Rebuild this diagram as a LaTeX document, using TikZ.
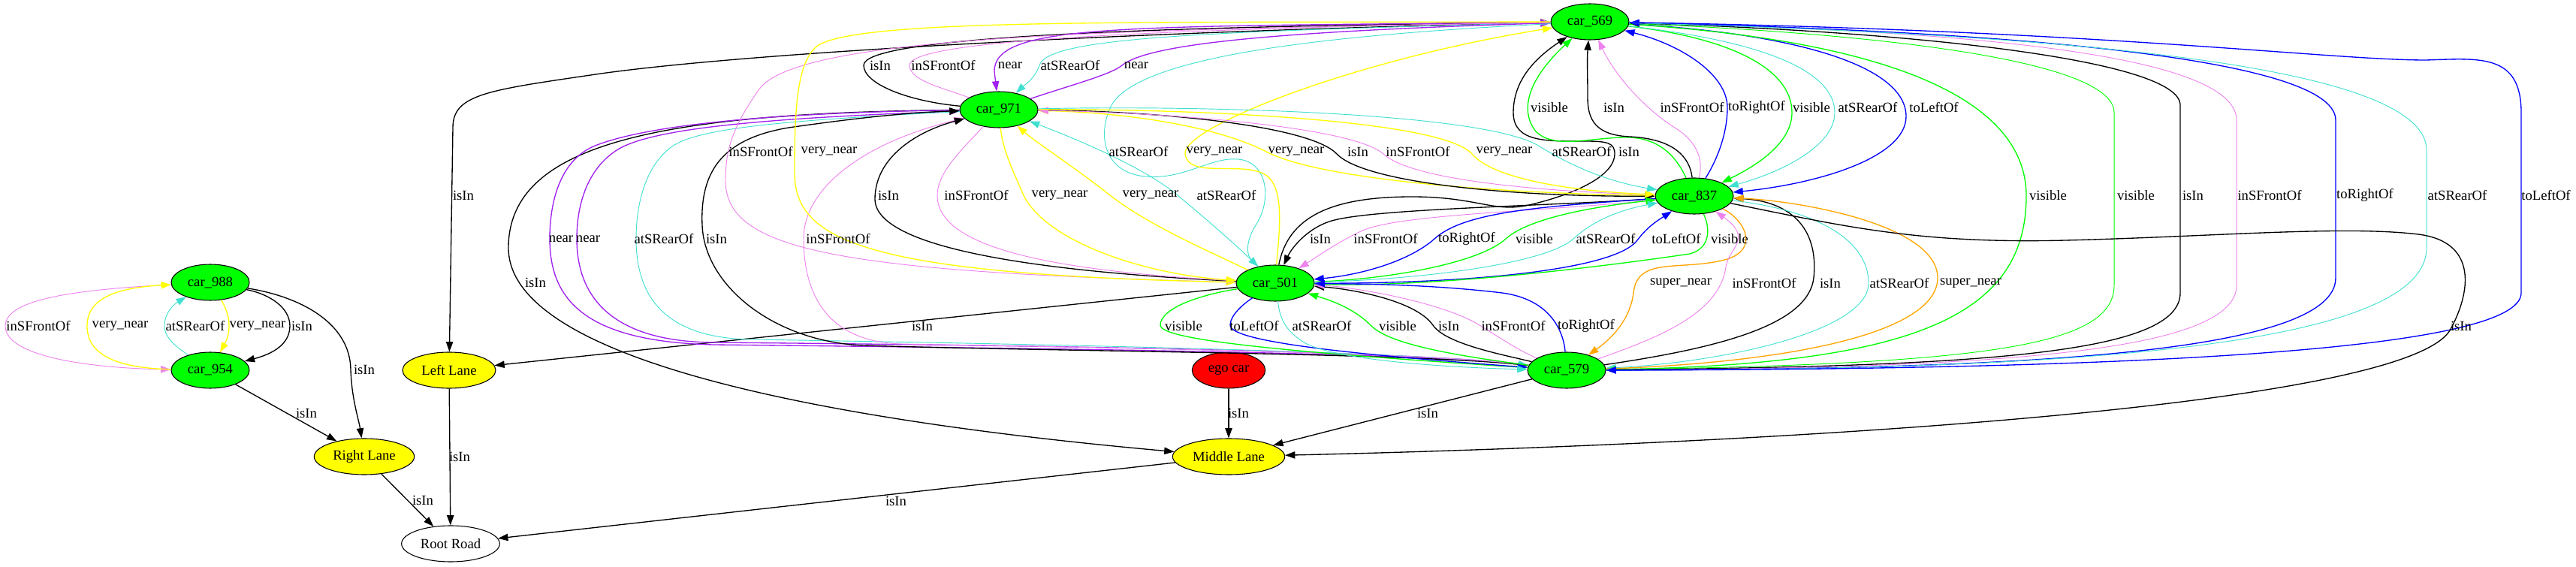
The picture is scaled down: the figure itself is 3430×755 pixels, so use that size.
\documentclass[tikz,border=0pt]{standalone}
\usepackage{fontspec}
\setmainfont{Liberation Serif}
\usetikzlibrary{shapes.geometric,arrows.meta}
\definecolor{gc}{HTML}{00FF00}
\definecolor{yc}{HTML}{FFFF00}
\definecolor{rc}{HTML}{FF0000}
\definecolor{vi}{HTML}{EE82EE}
\definecolor{tq}{HTML}{40E0D0}
\definecolor{pu}{HTML}{A020F0}
\definecolor{bl}{HTML}{0000FF}
\definecolor{og}{HTML}{FFA500}
\definecolor{gn}{HTML}{00FF00}
\definecolor{yl}{HTML}{FFFF00}
\begin{document}
\begin{tikzpicture}[x=0.75pt,y=-0.75pt,
  every node/.style={font=\fontsize{14pt}{16pt}\selectfont},
  ed/.style={-{Triangle[length=10pt,width=7pt]},line width=1pt},
  th/.style={line width=0.7pt},
  car/.style={ellipse,draw,line width=0.8pt,fill=gc,minimum width=78pt,minimum height=36pt,inner sep=0pt},
  lane/.style={ellipse,draw,line width=0.8pt,fill=yc,minimum height=36pt,inner sep=0pt},
  lab/.style={inner sep=0pt}]
\useasboundingbox (0,0) rectangle (3430,755);
% nodes
\node[car] (c569) at (2117,29) {car\_569};
\node[car] (c971) at (1330,146) {car\_971};
\node[car] (c837) at (2256,261) {car\_837};
\node[car] (c501) at (1698,377) {car\_501};
\node[car] (c579) at (2086,493) {car\_579};
\node[car] (c988) at (280,376) {car\_988};
\node[car] (c954) at (280,493) {car\_954};
\node[ellipse,draw,line width=0.8pt,fill=rc,minimum width=73pt,minimum height=36pt,inner sep=0pt] (ego) at (1636,493) {ego car};
\node[lane,minimum width=93pt] (left) at (598,493) {Left Lane};
\node[lane,minimum width=100pt] (right) at (485,608) {Right Lane};
\node[lane,minimum width=112pt] (middle) at (1636,608) {Middle Lane};
\node[ellipse,draw,line width=0.8pt,minimum width=98pt,minimum height=36pt,inner sep=0pt] (root) at (600,724) {Root Road};
% left cluster
\draw[ed,th,vi] (c988) .. controls (120,385) and (7,395) .. (7,434) .. controls (7,475) and (120,490) .. (c954);
\draw[ed,yl] (c954) .. controls (150,490) and (116,470) .. (116,434) .. controls (116,395) and (160,383) .. (c988);
\draw[ed,yl] (c988) .. controls (298,405) and (305,418) .. (305,434) .. controls (305,450) and (298,460) .. (c954);
\draw[ed,th,tq] (c954) .. controls (235,462) and (219,450) .. (219,434) .. controls (219,416) and (232,405) .. (c988);
\draw[ed] (c988) .. controls (360,392) and (386,410) .. (386,434) .. controls (386,460) and (360,472) .. (c954);
\draw[ed] (c988) .. controls (400,395) and (466,430) .. (467,492) .. controls (468,530) and (478,560) .. (right);
\draw[ed] (c954) -- (right);
\draw[ed] (right) -- (root);
\draw[ed] (left) -- (root);
\draw[ed] (middle) -- (root);
\draw[ed] (ego) -- (middle);
\draw[ed] (c579) -- (middle);
\draw[ed] (c501) -- (left);
\draw[ed] (c569) .. controls (1500,42) and (1000,70) .. (800,98) .. controls (650,120) and (603,125) .. (603,170) -- (left);
\draw[ed] (c971) .. controls (880,150) and (677,190) .. (677,330) .. controls (677,480) and (1100,560) .. (middle);
% left loop c971 - c579
\draw[ed,pu] (c971) .. controls (1000,150) and (850,170) .. (790,195) .. controls (745,215) and (732,270) .. (732,318) .. controls (732,400) and (780,455) .. (950,459) .. controls (1400,464) and (1900,470) .. (c579);
\draw[ed,pu] (c579) .. controls (1900,468) and (1400,460) .. (950,456) .. controls (820,455) and (768,400) .. (768,318) .. controls (768,260) and (790,215) .. (830,195) .. controls (880,172) and (1000,158) .. (c971);
\draw[ed,th,tq] (c971) .. controls (1050,160) and (930,170) .. (895,195) .. controls (860,220) and (847,270) .. (847,318) .. controls (847,390) and (880,450) .. (1000,452) .. controls (1500,460) and (1900,470) .. (c579);
\draw[ed] (c579) .. controls (1900,470) and (1400,468) .. (1150,460) .. controls (1030,455) and (938,380) .. (935,300) .. controls (932,230) and (960,185) .. (1050,170) .. controls (1120,160) and (1200,150) .. (c971);
\draw[ed,th,vi] (c579) .. controls (1900,468) and (1400,462) .. (1200,458) .. controls (1100,455) and (1070,390) .. (1070,318) .. controls (1070,250) and (1150,190) .. (c971);
% top bundle c971 - c569
\draw[ed] (c971) .. controls (1210,135) and (1150,112) .. (1150,87) .. controls (1150,50) and (1500,36) .. (c569);
\draw[ed,th,vi] (c971) .. controls (1260,118) and (1211,108) .. (1211,87) .. controls (1211,58) and (1450,40) .. (c569);
\draw[ed,pu] (c569) .. controls (1500,36) and (1324,30) .. (1324,95) -- (c971);
\draw[ed,th,tq] (c569) .. controls (1600,42) and (1395,50) .. (1384,87) .. controls (1378,105) and (1362,115) .. (c971);
\draw[ed,pu] (c971) .. controls (1420,115) and (1478,100) .. (1494,87) .. controls (1530,58) and (1700,42) .. (c569);
% c569 - c501
\draw[ed,th,vi] (c569) .. controls (1500,40) and (1060,45) .. (1010,120) .. controls (975,170) and (966,200) .. (966,240) .. controls (966,330) and (1100,362) .. (c501);
\draw[ed,yl] (c569) .. controls (1500,30) and (1150,25) .. (1090,60) .. controls (1060,80) and (1058,150) .. (1058,230) .. controls (1058,320) and (1150,365) .. (c501);
\draw[ed,th,tq] (c569) .. controls (1800,45) and (1520,70) .. (1480,140) .. controls (1460,180) and (1470,230) .. (1525,235) .. controls (1580,240) and (1615,205) .. (1655,213) .. controls (1690,222) and (1692,270) .. (1672,300) .. controls (1658,322) and (1660,340) .. (c501);
\draw[ed,yl] (c501) .. controls (1702,320) and (1712,255) .. (1688,235) .. controls (1660,212) and (1582,240) .. (1578,205) .. controls (1574,170) and (1800,80) .. (c569);
\draw[ed] (c501) .. controls (1715,290) and (1770,262) .. (1880,262) .. controls (1970,262) and (1990,285) .. (2040,272) .. controls (2110,255) and (2150,230) .. (2150,205) .. controls (2150,190) and (2140,188) .. (2110,188) .. controls (2060,188) and (2015,190) .. (2015,150) .. controls (2015,110) and (2040,80) .. (c569);
% c971 - c501
\draw[ed] (c501) .. controls (1450,365) and (1165,340) .. (1165,265) .. controls (1165,210) and (1220,175) .. (c971);
\draw[ed,th,vi] (c971) .. controls (1280,200) and (1248,230) .. (1248,260) .. controls (1248,330) and (1400,360) .. (c501);
\draw[ed,yl] (c971) .. controls (1335,200) and (1350,230) .. (1362,258) .. controls (1390,320) and (1520,365) .. (c501);
\draw[ed,yl] (c501) .. controls (1600,330) and (1530,300) .. (1478,260) .. controls (1430,222) and (1380,190) .. (c971);
\draw[ed,th,tq] (c501) .. controls (1650,330) and (1610,295) .. (1568,260) .. controls (1520,220) and (1420,180) .. (c971);
% c971 - c837
\draw[ed,yl] (c837) .. controls (2000,258) and (1760,240) .. (1686,202) .. controls (1620,168) and (1500,150) .. (c971);
\draw[ed] (c971) .. controls (1550,148) and (1745,168) .. (1780,205) .. controls (1815,242) and (2000,262) .. (c837);
\draw[ed,th,vi] (c837) .. controls (2050,255) and (1880,240) .. (1842,205) .. controls (1800,168) and (1550,150) .. (c971);
\draw[ed,yl] (c971) .. controls (1600,145) and (1920,160) .. (1960,205) .. controls (1990,240) and (2100,255) .. (c837);
\draw[ed,th,tq] (c971) .. controls (1600,140) and (1980,150) .. (2050,195) .. controls (2110,232) and (2160,245) .. (c837);
% c837 - c569
\draw[ed,gn] (c837) .. controls (2235,215) and (2215,185) .. (2170,183) .. controls (2120,182) and (2070,200) .. (2045,175) .. controls (2025,150) and (2030,110) .. (c569);
\draw[ed] (c837) .. controls (2250,210) and (2230,185) .. (2170,182) .. controls (2125,180) and (2114,160) .. (2114,130) .. controls (2114,100) and (2113,80) .. (c569);
\draw[ed,th,vi] (c837) .. controls (2268,215) and (2262,190) .. (2230,170) .. controls (2190,145) and (2150,100) .. (c569);
\draw[ed,bl] (c837) .. controls (2285,215) and (2300,180) .. (2300,143) .. controls (2300,100) and (2240,60) .. (c569);
\draw[ed,gn] (c569) .. controls (2300,50) and (2386,90) .. (2386,150) .. controls (2386,190) and (2340,220) .. (c837);
\draw[ed,th,tq] (c569) .. controls (2350,55) and (2443,95) .. (2443,150) .. controls (2443,195) and (2370,230) .. (c837);
\draw[ed,bl] (c569) .. controls (2400,45) and (2538,90) .. (2538,155) .. controls (2538,210) and (2420,245) .. (c837);
% c837 - c501
\draw[ed] (c837) .. controls (2050,275) and (1820,278) .. (1770,295) .. controls (1740,305) and (1720,330) .. (c501);
\draw[ed,th,vi] (c837) .. controls (2050,282) and (1860,285) .. (1812,308) .. controls (1780,323) and (1752,343) .. (c501);
\draw[ed,bl] (c837) .. controls (2050,275) and (1950,282) .. (1910,318) .. controls (1880,345) and (1820,365) .. (c501);
\draw[ed,gn] (c501) .. controls (1850,372) and (1970,350) .. (2005,318) .. controls (2040,286) and (2150,272) .. (c837);
\draw[ed,th,tq] (c501) .. controls (1900,372) and (2060,350) .. (2095,318) .. controls (2125,290) and (2165,278) .. (c837);
\draw[ed,bl] (c501) .. controls (1950,378) and (2150,360) .. (2180,320) .. controls (2195,300) and (2210,292) .. (c837);
\draw[ed,gn] (c837) .. controls (2276,300) and (2280,330) .. (2250,338) .. controls (2100,360) and (1900,382) .. (c501);
% c501 - c579
\draw[ed,gn] (c501) .. controls (1600,392) and (1545,410) .. (1545,433) .. controls (1545,452) and (1700,468) .. (c579);
\draw[ed,bl] (c501) .. controls (1655,405) and (1638,420) .. (1638,433) .. controls (1638,455) and (1800,472) .. (c579);
\draw[ed,th,tq] (c501) .. controls (1704,420) and (1708,440) .. (1740,458) .. controls (1790,482) and (1950,490) .. (c579);
\draw[ed,gn] (c579) .. controls (1950,475) and (1850,460) .. (1825,433) .. controls (1800,408) and (1765,398) .. (c501);
\draw[ed] (c579) .. controls (2000,472) and (1925,458) .. (1908,433) .. controls (1885,400) and (1800,385) .. (c501);
\draw[ed,th,vi] (c579) .. controls (2020,466) and (1995,448) .. (1970,433) .. controls (1920,402) and (1800,382) .. (c501);
\draw[ed,bl] (c579) .. controls (2083,455) and (2075,400) .. (2000,390) .. controls (1900,378) and (1800,378) .. (c501);
% c837 - c579
\draw[ed,og] (c837) .. controls (2320,290) and (2345,330) .. (2300,345) .. controls (2240,362) and (2180,340) .. (2175,390) .. controls (2170,430) and (2140,455) .. (c579);
\draw[ed,th,vi] (c579) .. controls (2200,452) and (2290,420) .. (2298,355) .. controls (2302,330) and (2335,318) .. (c837);
\draw[ed] (c579) .. controls (2300,462) and (2408,430) .. (2415,370) .. controls (2422,300) and (2380,268) .. (c837);
\draw[ed,th,tq] (c837) .. controls (2420,280) and (2488,320) .. (2488,377) .. controls (2488,440) and (2300,482) .. (c579);
\draw[ed,og] (c579) .. controls (2400,482) and (2580,440) .. (2580,370) .. controls (2580,300) and (2400,268) .. (c837);
% c569 - c579
\draw[ed,gn] (c569) .. controls (2450,50) and (2698,110) .. (2698,261) .. controls (2698,420) and (2550,485) .. (c579);
\draw[ed,th,gn] (c579) .. controls (2650,485) and (2815,460) .. (2815,380) -- (2815,150) .. controls (2815,80) and (2500,45) .. (c569);
\draw[ed] (c579) .. controls (2650,488) and (2903,470) .. (2903,390) -- (2903,140) .. controls (2903,80) and (2550,42) .. (c569);
\draw[ed,th,vi] (c569) .. controls (2600,40) and (2978,70) .. (2978,160) -- (2978,380) .. controls (2978,470) and (2650,490) .. (c579);
\draw[ed,bl] (c579) .. controls (2700,492) and (3110,470) .. (3110,370) -- (3110,160) .. controls (3110,70) and (2600,40) .. (c569);
\draw[ed,th,tq] (c569) .. controls (2700,45) and (3231,80) .. (3231,200) -- (3231,330) .. controls (3231,470) and (2700,492) .. (c579);
\draw[ed,bl] (c569) .. controls (2800,40) and (3100,80) .. (3230,80) .. controls (3300,78) and (3357,70) .. (3357,150) -- (3357,390) .. controls (3357,470) and (2800,492) .. (c579);
% c837 - middle
\draw[ed] (c837) .. controls (2450,300) and (2550,325) .. (2750,320) .. controls (2950,315) and (3120,300) .. (3220,312) .. controls (3300,322) and (3290,390) .. (3262,440) .. controls (3200,540) and (2400,590) .. (middle);
% labels
\node[lab] (a1) at (1172,87) {isIn};
\node[lab] (a2) at (1256,87) {inSFrontOf};
\node[lab] (a3) at (1345,87) {near};
\node[lab] (a4) at (1425,87) {atSRearOf};
\node[lab] (a5) at (1513,87) {near};
\node[lab] (b1) at (2063,143) {visible};
\node[lab] (b2) at (2149,143) {isIn};
\node[lab] (b3) at (2253,143) {inSFrontOf};
\node[lab] (b4) at (2339,143) {toRightOf};
\node[lab] (b5) at (2412,143) {visible};
\node[lab] (b6) at (2487,143) {atSRearOf};
\node[lab] (b7) at (2575,143) {toLeftOf};
\node[lab] (d1) at (1013,202) {inSFrontOf};
\node[lab] (d2) at (1104,202) {very\_near};
\node[lab] (d3) at (1516,202) {atSRearOf};
\node[lab] (d4) at (1617,202) {very\_near};
\node[lab] (d5) at (1726,202) {very\_near};
\node[lab] (d6) at (1808,202) {isIn};
\node[lab] (d7) at (1888,202) {inSFrontOf};
\node[lab] (d8) at (2003,202) {very\_near};
\node[lab] (d9) at (2106,202) {atSRearOf};
\node[lab] (d10) at (2169,202) {isIn};
\node[lab] (f1) at (617,260) {isIn};
\node[lab] (f2) at (1183,260) {isIn};
\node[lab] (f3) at (1300,260) {inSFrontOf};
\node[lab] (f4) at (1411,260) {very\_near};
\node[lab] (f5) at (1532,260) {very\_near};
\node[lab] (f6) at (1633,260) {atSRearOf};
\node[lab] (f7) at (2727,260) {visible};
\node[lab] (f8) at (2844,260) {visible};
\node[lab] (f9) at (2920,260) {isIn};
\node[lab] (f10) at (3022,260) {inSFrontOf};
\node[lab] (f11) at (3149,260) {toRightOf};
\node[lab] (f12) at (3272,260) {atSRearOf};
\node[lab] (f13) at (3390,260) {toLeftOf};
\node[lab] (g1) at (747,318) {near};
\node[lab] (g2) at (783,318) {near};
\node[lab] (g3) at (884,318) {atSRearOf};
\node[lab] (g4) at (954,318) {isIn};
\node[lab] (g5) at (1116,318) {inSFrontOf};
\node[lab] (g6) at (1758,318) {isIn};
\node[lab] (g7) at (1845,318) {inSFrontOf};
\node[lab] (g8) at (1953,318) {toRightOf};
\node[lab] (g9) at (2043,318) {visible};
\node[lab] (g10) at (2138,318) {atSRearOf};
\node[lab] (g11) at (2232,318) {toLeftOf};
\node[lab] (g12) at (2303,318) {visible};
\node[lab] (h1) at (713,376) {isIn};
\node[lab] (h2) at (2238,377) {super\_near};
\node[lab] (h3) at (2349,377) {inSFrontOf};
\node[lab] (h4) at (2437,377) {isIn};
\node[lab] (h5) at (2529,377) {atSRearOf};
\node[lab] (h6) at (2624,377) {super\_near};
\node[lab] (k1) at (51,434) {inSFrontOf};
\node[lab] (k2) at (160,434) {very\_near};
\node[lab] (k3) at (260,434) {atSRearOf};
\node[lab] (k4) at (343,434) {very\_near};
\node[lab] (k5) at (402,434) {isIn};
\node[lab] (k6) at (1228,434) {isIn};
\node[lab] (k7) at (1576,434) {visible};
\node[lab] (k8) at (1670,434) {toLeftOf};
\node[lab] (k9) at (1760,434) {atSRearOf};
\node[lab] (k10) at (1861,434) {visible};
\node[lab] (k11) at (1929,434) {isIn};
\node[lab] (k12) at (2015,434) {inSFrontOf};
\node[lab] (k13) at (2112,434) {toRightOf};
\node[lab] (k14) at (3277,434) {isIn};
\node[lab] (m1) at (485,492) {isIn};
\node[lab] (m2) at (408,550) {isIn};
\node[lab] (m3) at (1649,550) {isIn};
\node[lab] (m4) at (1901,550) {isIn};
\node[lab] (m5) at (612,608) {isIn};
\node[lab] (m6) at (563,666) {isIn};
\node[lab] (m7) at (1193,667) {isIn};
\end{tikzpicture}
\end{document}
